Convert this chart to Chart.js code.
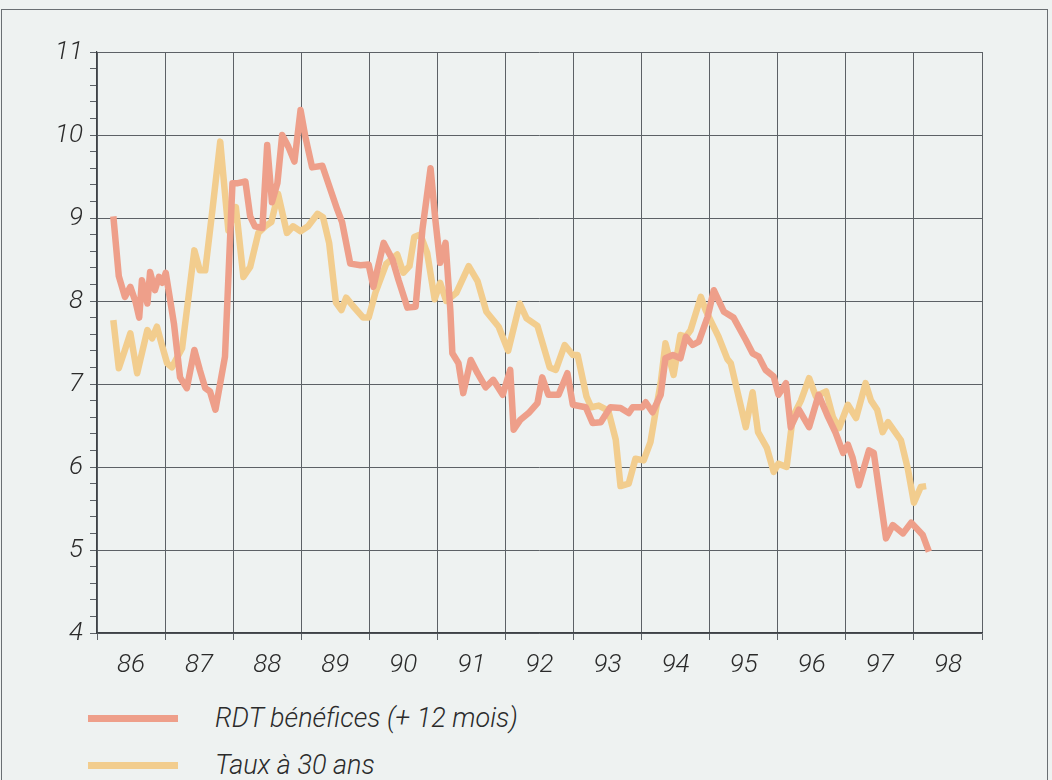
<!DOCTYPE html>
<html lang="fr">
<head>
<meta charset="utf-8">
<title>RDT bénéfices et taux à 30 ans</title>
<script src="https://cdn.jsdelivr.net/npm/chart.js@4.4.1/dist/chart.umd.min.js"></script>
<style>
  html, body { margin: 0; padding: 0; }
  body { width: 1052px; height: 780px; background: #eef2f1; position: relative; overflow: hidden;
         font-family: Roboto, "Liberation Sans", sans-serif; color: #2b2b2b; }
  #chart { position: absolute; left: 0; top: 0; }
  .frame { position: absolute; left: 1px; top: 9px; width: 1045px; height: 800px;
           border: 1.5px solid #6a6f73; }
  .item { position: absolute; left: 0; height: 40px; width: 700px; }
  .swatch { position: absolute; left: 88px; width: 90px; height: 7px; top: 17px; }
  .label { position: absolute; left: 215px; top: 0; line-height: 40px; font-size: 27px;
           font-style: italic; font-weight: 300; white-space: nowrap; }
</style>
</head>
<body>
<div class="frame"></div>
<canvas id="chart" width="1052" height="690"></canvas>
<div class="item" style="top:698px"><div class="swatch" style="background:#ee9f8a"></div><div class="label">RDT bénéfices (+ 12 mois)</div></div>
<div class="item" style="top:745px"><div class="swatch" style="background:#f2cd8e"></div><div class="label">Taux à 30 ans</div></div>
<script>
// year labels shown under each yearly band
const yearLabels = ['86', '87', '88', '89', '90', '91', '92', '93', '94', '95', '96', '97', '98'];

// RDT bénéfices (+ 12 mois), x in decimal years
const rdtX = [1986.24, 1986.32, 1986.41, 1986.49, 1986.57, 1986.62, 1986.66, 1986.74, 1986.78, 1986.85,
  1986.91, 1986.96, 1987.01, 1987.13, 1987.22, 1987.32, 1987.43, 1987.51, 1987.59, 1987.66,
  1987.74, 1987.81, 1987.88, 1987.99, 1988.07, 1988.18, 1988.25, 1988.32, 1988.43, 1988.50,
  1988.57, 1988.65, 1988.72, 1988.81, 1988.90, 1988.99, 1989.06, 1989.16, 1989.31, 1989.53,
  1989.60, 1989.72, 1989.87, 1989.99, 1990.06, 1990.21, 1990.34, 1990.43, 1990.56, 1990.68,
  1990.78, 1990.90, 1990.97, 1991.04, 1991.12, 1991.19, 1991.22, 1991.31, 1991.38, 1991.49,
  1991.59, 1991.71, 1991.82, 1991.96, 1992.07, 1992.12, 1992.22, 1992.34, 1992.47, 1992.54,
  1992.63, 1992.78, 1992.91, 1992.99, 1993.18, 1993.28, 1993.40, 1993.54, 1993.69, 1993.81,
  1993.87, 1994.01, 1994.06, 1994.16, 1994.28, 1994.35, 1994.46, 1994.57, 1994.65, 1994.75,
  1994.84, 1994.97, 1995.06, 1995.21, 1995.35, 1995.53, 1995.63, 1995.72, 1995.82, 1995.94,
  1996.01, 1996.12, 1996.19, 1996.31, 1996.46, 1996.60, 1996.74, 1996.85, 1996.96, 1997.03,
  1997.10, 1997.19, 1997.34, 1997.41, 1997.59, 1997.69, 1997.84, 1997.96, 1998.13, 1998.22];
const rdtY = [9.02, 8.30, 8.05, 8.17, 7.98, 7.80, 8.25, 7.97, 8.35, 8.13,
  8.29, 8.22, 8.34, 7.73, 7.08, 6.95, 7.41, 7.17, 6.95, 6.91,
  6.69, 7.01, 7.33, 9.42, 9.42, 9.44, 9.02, 8.90, 8.88, 9.88,
  9.19, 9.42, 10.00, 9.86, 9.68, 10.30, 9.98, 9.61, 9.63, 9.10,
  8.95, 8.45, 8.43, 8.44, 8.17, 8.70, 8.50, 8.25, 7.92, 7.93,
  8.86, 9.60, 8.98, 8.46, 8.70, 7.89, 7.37, 7.25, 6.89, 7.29,
  7.13, 6.96, 7.05, 6.87, 7.17, 6.45, 6.57, 6.65, 6.77, 7.08,
  6.87, 6.87, 7.13, 6.75, 6.72, 6.53, 6.54, 6.72, 6.71, 6.65,
  6.72, 6.72, 6.78, 6.66, 6.87, 7.31, 7.35, 7.31, 7.57, 7.47,
  7.51, 7.81, 8.13, 7.87, 7.80, 7.53, 7.37, 7.33, 7.17, 7.09,
  6.87, 7.01, 6.48, 6.69, 6.48, 6.87, 6.60, 6.41, 6.17, 6.27,
  6.11, 5.78, 6.20, 6.17, 5.14, 5.30, 5.20, 5.33, 5.18, 4.98];

// Taux à 30 ans
const tauxX = [1986.24, 1986.32, 1986.41, 1986.49, 1986.59, 1986.74, 1986.81, 1986.88, 1986.96, 1987.03,
  1987.10, 1987.25, 1987.43, 1987.51, 1987.59, 1987.69, 1987.81, 1987.93, 1988.04, 1988.15,
  1988.25, 1988.37, 1988.47, 1988.56, 1988.66, 1988.79, 1988.88, 1988.99, 1989.10, 1989.24,
  1989.32, 1989.41, 1989.51, 1989.59, 1989.66, 1989.76, 1989.91, 1989.99, 1990.09, 1990.25,
  1990.41, 1990.50, 1990.59, 1990.66, 1990.75, 1990.85, 1990.96, 1991.04, 1991.13, 1991.28,
  1991.46, 1991.59, 1991.72, 1991.90, 1992.04, 1992.21, 1992.31, 1992.47, 1992.65, 1992.74,
  1992.87, 1992.99, 1993.06, 1993.19, 1993.26, 1993.37, 1993.51, 1993.62, 1993.69, 1993.81,
  1993.91, 1994.03, 1994.13, 1994.21, 1994.28, 1994.35, 1994.47, 1994.57, 1994.65, 1994.72,
  1994.87, 1994.94, 1995.01, 1995.13, 1995.26, 1995.31, 1995.53, 1995.63, 1995.71, 1995.84,
  1995.94, 1996.01, 1996.13, 1996.22, 1996.34, 1996.46, 1996.56, 1996.71, 1996.81, 1996.90,
  1997.03, 1997.15, 1997.29, 1997.37, 1997.46, 1997.54, 1997.62, 1997.81, 1997.91, 1998.00,
  1998.10, 1998.18];
const tauxY = [7.77, 7.19, 7.41, 7.61, 7.13, 7.65, 7.55, 7.69, 7.45, 7.25,
  7.20, 7.43, 8.61, 8.37, 8.37, 9.06, 9.92, 8.85, 9.13, 8.29,
  8.41, 8.82, 8.90, 8.95, 9.29, 8.82, 8.90, 8.84, 8.90, 9.05,
  9.01, 8.70, 7.98, 7.89, 8.04, 7.94, 7.80, 7.80, 8.10, 8.45,
  8.56, 8.34, 8.42, 8.77, 8.80, 8.58, 8.02, 8.22, 8.00, 8.10,
  8.42, 8.24, 7.87, 7.69, 7.40, 7.97, 7.79, 7.70, 7.20, 7.17,
  7.47, 7.35, 7.35, 6.85, 6.72, 6.74, 6.68, 6.33, 5.77, 5.80,
  6.10, 6.08, 6.30, 6.69, 7.01, 7.49, 7.11, 7.59, 7.57, 7.65,
  8.05, 7.89, 7.77, 7.57, 7.30, 7.25, 6.48, 6.90, 6.42, 6.23,
  5.94, 6.04, 6.00, 6.60, 6.80, 7.07, 6.85, 6.91, 6.60, 6.47,
  6.75, 6.59, 7.01, 6.80, 6.69, 6.42, 6.54, 6.32, 5.98, 5.57,
  5.76, 5.77];

const gridColor = '#5c6166';
const textColor = '#2b2b2b';
const tickFont = { family: 'Roboto, "Liberation Sans", sans-serif', size: 26, style: 'italic', weight: 300 };

const isWhole = v => Math.abs(v - Math.round(v)) < 1e-6;
const toPoints = (xs, ys) => xs.map((x, i) => ({ x: x, y: ys[i] }));

new Chart(document.getElementById('chart'), {
  type: 'line',
  data: {
    datasets: [
      {
        label: 'RDT bénéfices (+ 12 mois)',
        data: toPoints(rdtX, rdtY),
        borderColor: '#ee9f8a',
        borderWidth: 6.5,
        borderJoinStyle: 'round',
        pointRadius: 0,
        tension: 0
      },
      {
        label: 'Taux à 30 ans',
        data: toPoints(tauxX, tauxY),
        borderColor: '#f2cd8e',
        borderWidth: 6.5,
        borderJoinStyle: 'round',
        pointRadius: 0,
        tension: 0
      }
    ]
  },
  options: {
    responsive: false,
    animation: false,
    layout: { padding: { left: 0, right: 70, top: 52, bottom: 0 } },
    plugins: { legend: { display: false }, tooltip: { enabled: false } },
    scales: {
      x: {
        type: 'linear',
        min: 1986,
        max: 1999,
        afterFit: ax => { ax.height = 57; },
        ticks: {
          stepSize: 1,
          autoSkip: false,
          maxRotation: 0,
          labelOffset: 34,
          padding: 10,
          color: textColor,
          font: tickFont,
          callback: v => yearLabels[Math.round(v) - 1986] || ''
        },
        grid: { color: gridColor, tickColor: gridColor, tickLength: 7, lineWidth: 1 },
        border: { color: '#3e4246', width: 1.5 }
      },
      y: {
        min: 4,
        max: 11,
        afterFit: ax => { ax.width = 97; },
        ticks: {
          stepSize: 0.2,
          autoSkip: false,
          padding: 7,
          color: textColor,
          font: tickFont,
          callback: v => isWhole(v) ? String(Math.round(v)) : ''
        },
        grid: {
          color: ctx => isWhole(ctx.tick.value) ? gridColor : 'rgba(0,0,0,0)',
          tickColor: gridColor,
          tickLength: 7,
          lineWidth: 1
        },
        border: { color: '#3e4246', width: 1.2 }
      }
    }
  }
});
</script>
</body>
</html>
